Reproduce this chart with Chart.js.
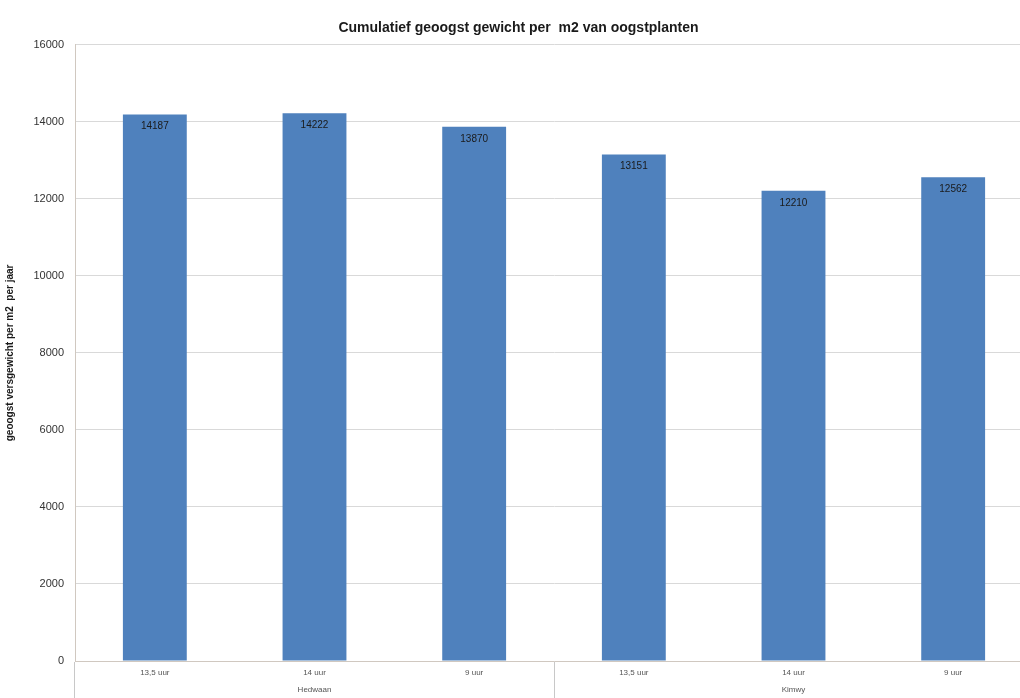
<!DOCTYPE html>
<html>
<head>
<meta charset="utf-8">
<script src="https://cdn.jsdelivr.net/npm/chart.js@4.4.1/dist/chart.umd.min.js"></script>
<style>
  html, body { margin: 0; padding: 0; background: #fff; overflow: hidden; }
  /* the plot runs a bit past the right edge in the original, so the canvas is wider than the window */
  #wrap { width: 1033px; height: 698px; }
</style>
</head>
<body>
<div id="wrap"><canvas id="oogst"></canvas></div>
<script>
// data
var categories = ["13,5 uur", "14 uur", "9 uur", "13,5 uur", "14 uur", "9 uur"];
var groups = ["Hedwaan", "Kimwy"];
var gewicht = [14187, 14222, 13870, 13151, 12210, 12562];
var yTicks = [0, 2000, 4000, 6000, 8000, 10000, 12000, 14000, 16000];

// writes the value just under the top of each bar
var valueLabels = {
  id: 'valueLabels',
  afterDatasetsDraw: function(chart) {
    var ctx = chart.ctx;
    var meta = chart.getDatasetMeta(0);
    ctx.save();
    ctx.font = '10px "Liberation Sans", sans-serif';
    ctx.fillStyle = '#1a1a1a';
    ctx.textAlign = 'center';
    ctx.textBaseline = 'middle';
    meta.data.forEach(function(bar, i) {
      ctx.fillText(String(gewicht[i]), bar.x, bar.y + 12);
    });
    ctx.restore();
  }
};

window.onload = function() {
  var ctx = document.getElementById('oogst').getContext('2d');
  new Chart(ctx, {
    type: 'bar',
    data: {
      labels: categories,
      datasets: [{
        label: 'gewicht',
        data: gewicht,
        backgroundColor: '#4F81BD',
        categoryPercentage: 1.0,
        barPercentage: 0.4,
        xAxisID: 'x'
      }]
    },
    options: {
      responsive: true,
      maintainAspectRatio: false,
      animation: false,
      layout: { padding: { top: 20, right: 0, left: 4, bottom: 0 } },
      plugins: {
        legend: { display: false },
        tooltip: { enabled: false },
        title: {
          display: true,
          text: 'Cumulatief geoogst gewicht per  m2 van oogstplanten',
          color: '#1a1a1a',
          font: { family: '"Liberation Sans", sans-serif', size: 14, weight: 'bold' },
          padding: { top: 0, bottom: 8 }
        }
      },
      scales: {
        x: {
          // only the group boundaries get a tick line below the axis
          grid: {
            display: true,
            offset: true,
            drawOnChartArea: false,
            tickLength: 37,
            color: function(c) { return (c.index === 0 || c.index === 3) ? '#c8c8c8' : 'rgba(0,0,0,0)'; }
          },
          border: { color: '#d0c8c0' },
          ticks: {
            color: '#555',
            font: { family: '"Liberation Sans", sans-serif', size: 8 },
            padding: -30,
            maxRotation: 0
          },
          afterFit: function(s) { s.height = 20; }
        },
        x2: {
          type: 'category',
          labels: groups,
          position: 'bottom',
          offset: true,
          grid: { display: false },
          border: { display: false },
          ticks: {
            color: '#555',
            font: { family: '"Liberation Sans", sans-serif', size: 8 },
            padding: -4
          },
          afterFit: function(s) { s.height = 17; }
        },
        y: {
          min: 0,
          max: 16000,
          afterBuildTicks: function(s) { s.ticks = yTicks.map(function(v) { return { value: v }; }); },
          grid: { color: '#d9d9d9', drawTicks: false },
          border: { color: '#d0c8c0' },
          ticks: {
            color: '#333',
            font: { family: '"Liberation Sans", sans-serif', size: 11 },
            padding: 11,
            callback: function(v) { return String(v); }
          },
          title: {
            display: true,
            text: 'geoogst versgewicht per m2  per jaar',
            color: '#1a1a1a',
            font: { family: '"Liberation Sans", sans-serif', size: 10, weight: 'bold' },
            padding: { top: 0, bottom: 10 }
          },
          afterFit: function(s) { s.width = 71; }
        }
      }
    },
    plugins: [valueLabels]
  });
};
</script>
</body>
</html>
